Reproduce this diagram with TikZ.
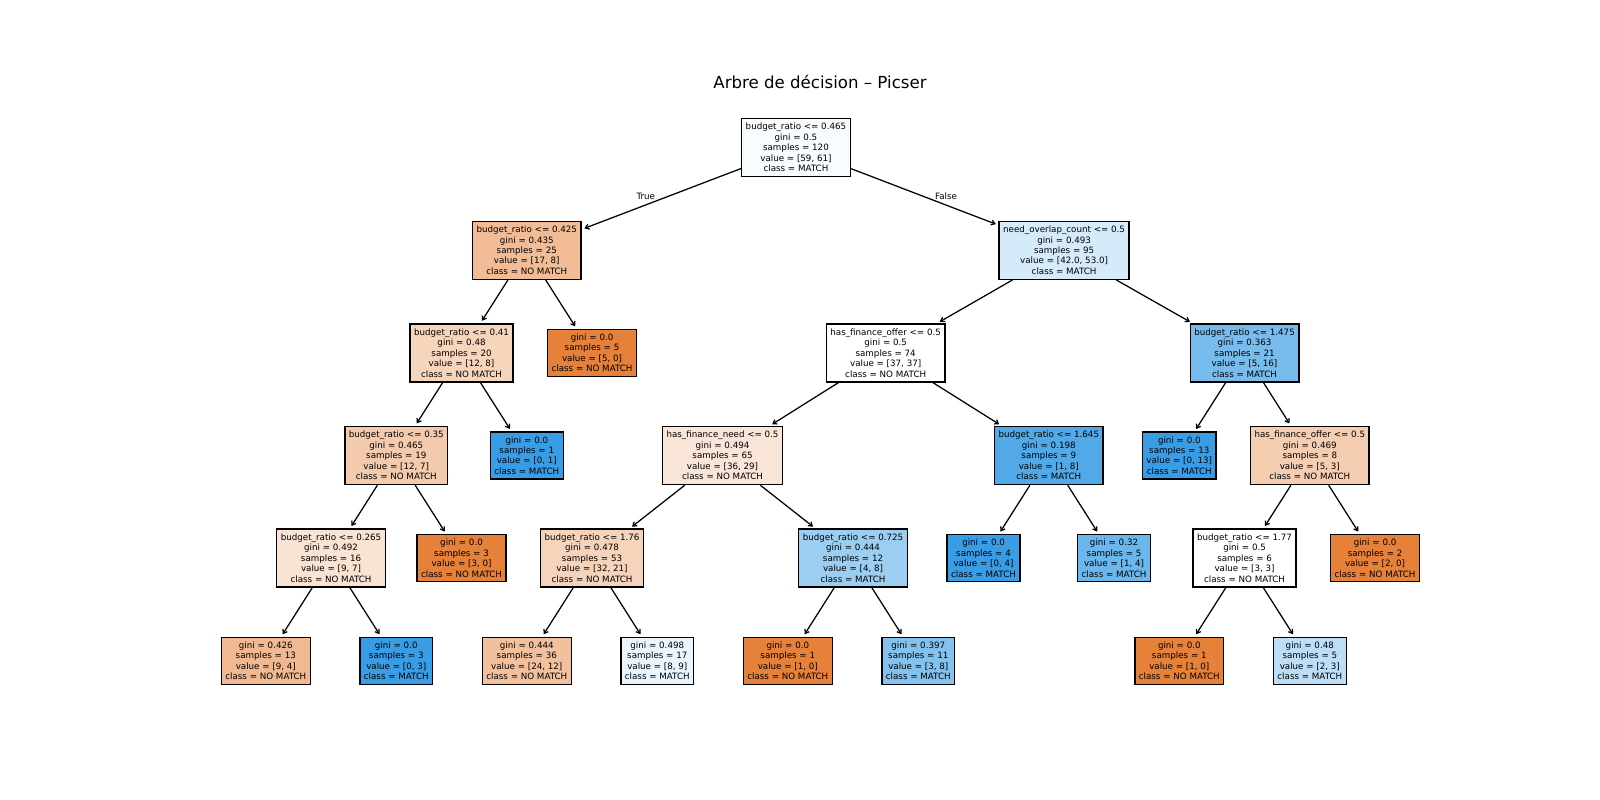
\documentclass[tikz,border=0pt]{standalone}
\usepackage{fontspec}
\setmainfont{DejaVu Sans}
\usetikzlibrary{arrows.meta}
\newcommand\tnfont{\fontsize{6.3}{7.56}\selectfont}
\definecolor{skor}{RGB}{229,129,57}
\definecolor{skbl}{RGB}{57,157,229}
\definecolor{cR}{RGB}{249,252,254}
\definecolor{cA}{RGB}{241,188,150}
\definecolor{cB}{RGB}{214,235,250}
\definecolor{cAA}{RGB}{246,213,189}
\definecolor{cBB}{RGB}{119,188,237}
\definecolor{cAAA}{RGB}{244,202,172}
\definecolor{cBAA}{RGB}{250,230,216}
\definecolor{cBAB}{RGB}{82,169,232}
\definecolor{cBBB}{RGB}{245,205,176}
\definecolor{cAAAA}{RGB}{249,227,211}
\definecolor{cBAAA}{RGB}{246,212,187}
\definecolor{cBAAB}{RGB}{156,206,242}
\definecolor{cBABB}{RGB}{107,182,236}
\definecolor{cL1}{RGB}{241,185,145}
\definecolor{cL2}{RGB}{242,192,156}
\definecolor{cL3}{RGB}{233,244,252}
\definecolor{cL4}{RGB}{131,194,239}
\definecolor{cL5}{RGB}{189,222,246}
\tikzset{
  dec/.style={draw=black, line width=1bp, align=center, font=\tnfont,
    inner xsep=2.9bp, inner ysep=1bp, minimum height=41.8bp},
  leaf/.style={dec, minimum height=33.8bp},
  orleaf/.style={leaf, fill=skor},
  blleaf/.style={leaf, fill=skbl},
  arr/.style={line width=0.9bp, -{Straight Barb[length=2.6bp,width=3.6bp]}, shorten >=2bp},
  tflabel/.style={font=\tnfont, anchor=base, inner sep=0pt},
}
\begin{document}
\begin{tikzpicture}[x=0.72bp, y=-0.72bp]
\useasboundingbox[fill=white] (0,0) rectangle (1600,800);
\node[font=\fontsize{12}{14.4}\selectfont, anchor=base, inner sep=0pt] (title) at (820,88) {Arbre de décision – Picser};

% level 0
\node[dec, fill=cR] (r) at (795.95,147.6) {budget\_ratio <= 0.465\\gini = 0.5\\samples = 120\\value = [59, 61]\\class = MATCH};
% level 1
\node[dec, fill=cA] (a) at (526.8,250.25) {budget\_ratio <= 0.425\\gini = 0.435\\samples = 25\\value = [17, 8]\\class = NO MATCH};
\node[dec, fill=cB] (b) at (1064.1,250.25) {need\_overlap\_count <= 0.5\\gini = 0.493\\samples = 95\\value = [42.0, 53.0]\\class = MATCH};
% level 2
\node[dec, fill=cAA] (aa) at (461.55,352.9) {budget\_ratio <= 0.41\\gini = 0.48\\samples = 20\\value = [12, 8]\\class = NO MATCH};
\node[orleaf] (ab) at (592.05,352.9) {gini = 0.0\\samples = 5\\value = [5, 0]\\class = NO MATCH};
\node[dec, fill=white] (ba) at (885.675,352.9) {has\_finance\_offer <= 0.5\\gini = 0.5\\samples = 74\\value = [37, 37]\\class = NO MATCH};
\node[dec, fill=cBB] (bb) at (1244.55,352.9) {budget\_ratio <= 1.475\\gini = 0.363\\samples = 21\\value = [5, 16]\\class = MATCH};
% level 3
\node[dec, fill=cAAA] (aaa) at (396.3,455.5) {budget\_ratio <= 0.35\\gini = 0.465\\samples = 19\\value = [12, 7]\\class = NO MATCH};
\node[blleaf] (aab) at (526.8,455.5) {gini = 0.0\\samples = 1\\value = [0, 1]\\class = MATCH};
\node[dec, fill=cBAA] (baa) at (722.55,455.5) {has\_finance\_need <= 0.5\\gini = 0.494\\samples = 65\\value = [36, 29]\\class = NO MATCH};
\node[dec, fill=cBAB] (bab) at (1048.8,455.5) {budget\_ratio <= 1.645\\gini = 0.198\\samples = 9\\value = [1, 8]\\class = MATCH};
\node[blleaf] (bba) at (1179.3,455.5) {gini = 0.0\\samples = 13\\value = [0, 13]\\class = MATCH};
\node[dec, fill=cBBB] (bbb) at (1309.8,455.5) {has\_finance\_offer <= 0.5\\gini = 0.469\\samples = 8\\value = [5, 3]\\class = NO MATCH};
% level 4
\node[dec, fill=cAAAA] (aaaa) at (331.05,558.1) {budget\_ratio <= 0.265\\gini = 0.492\\samples = 16\\value = [9, 7]\\class = NO MATCH};
\node[orleaf] (aaab) at (461.55,558.1) {gini = 0.0\\samples = 3\\value = [3, 0]\\class = NO MATCH};
\node[dec, fill=cBAAA] (baaa) at (592.05,558.1) {budget\_ratio <= 1.76\\gini = 0.478\\samples = 53\\value = [32, 21]\\class = NO MATCH};
\node[dec, fill=cBAAB] (baab) at (853.05,558.1) {budget\_ratio <= 0.725\\gini = 0.444\\samples = 12\\value = [4, 8]\\class = MATCH};
\node[blleaf] (baba) at (983.55,558.1) {gini = 0.0\\samples = 4\\value = [0, 4]\\class = MATCH};
\node[leaf, fill=cBABB] (babb) at (1114.05,558.1) {gini = 0.32\\samples = 5\\value = [1, 4]\\class = MATCH};
\node[dec, fill=white] (bbba) at (1244.55,558.1) {budget\_ratio <= 1.77\\gini = 0.5\\samples = 6\\value = [3, 3]\\class = NO MATCH};
\node[orleaf] (bbbb) at (1375.05,558.1) {gini = 0.0\\samples = 2\\value = [2, 0]\\class = NO MATCH};
% level 5
\node[leaf, fill=cL1] (l1) at (265.8,660.8) {gini = 0.426\\samples = 13\\value = [9, 4]\\class = NO MATCH};
\node[blleaf] (l2) at (396.3,660.8) {gini = 0.0\\samples = 3\\value = [0, 3]\\class = MATCH};
\node[leaf, fill=cL2] (l3) at (526.8,660.8) {gini = 0.444\\samples = 36\\value = [24, 12]\\class = NO MATCH};
\node[leaf, fill=cL3] (l4) at (657.3,660.8) {gini = 0.498\\samples = 17\\value = [8, 9]\\class = MATCH};
\node[orleaf] (l5) at (787.8,660.8) {gini = 0.0\\samples = 1\\value = [1, 0]\\class = NO MATCH};
\node[leaf, fill=cL4] (l6) at (918.3,660.8) {gini = 0.397\\samples = 11\\value = [3, 8]\\class = MATCH};
\node[orleaf] (l7) at (1179.3,660.8) {gini = 0.0\\samples = 1\\value = [1, 0]\\class = NO MATCH};
\node[leaf, fill=cL5] (l8) at (1309.8,660.8) {gini = 0.48\\samples = 5\\value = [2, 3]\\class = MATCH};

% connectors
\draw[arr] (r) -- (a);
\draw[arr] (r) -- (b);
\draw[arr] (a) -- (aa);
\draw[arr] (a) -- (ab);
\draw[arr] (b) -- (ba);
\draw[arr] (b) -- (bb);
\draw[arr] (aa) -- (aaa);
\draw[arr] (aa) -- (aab);
\draw[arr] (ba) -- (baa);
\draw[arr] (ba) -- (bab);
\draw[arr] (bb) -- (bba);
\draw[arr] (bb) -- (bbb);
\draw[arr] (aaa) -- (aaaa);
\draw[arr] (aaa) -- (aaab);
\draw[arr] (baa) -- (baaa);
\draw[arr] (baa) -- (baab);
\draw[arr] (bab) -- (baba);
\draw[arr] (bab) -- (babb);
\draw[arr] (bbb) -- (bbba);
\draw[arr] (bbb) -- (bbbb);
\draw[arr] (aaaa) -- (l1);
\draw[arr] (aaaa) -- (l2);
\draw[arr] (baaa) -- (l3);
\draw[arr] (baaa) -- (l4);
\draw[arr] (baab) -- (l5);
\draw[arr] (baab) -- (l6);
\draw[arr] (bbba) -- (l7);
\draw[arr] (bbba) -- (l8);

\node[tflabel] (tl) at (645.8,199) {True};
\node[tflabel] (fl) at (946,199) {False};
\end{tikzpicture}
\end{document}
